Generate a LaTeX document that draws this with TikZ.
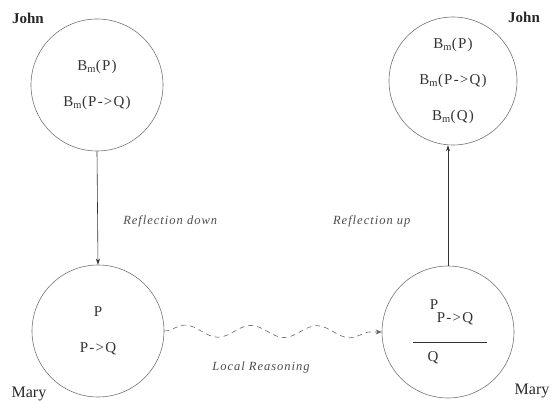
\documentclass[tikz,border=0pt]{standalone}
\usepackage{fontspec}
\setmainfont{Liberation Serif}
\newfontfamily\wideserif[LetterSpace=8]{Liberation Serif}
\usetikzlibrary{arrows.meta,decorations.pathmorphing,positioning}

\begin{document}
\begin{tikzpicture}[x=1pt, y=-1pt,
  mind/.style={circle, draw=black!55, line width=0.6pt, minimum size=132pt, inner sep=0pt,
               align=center, font=\wideserif\fontsize{15}{36}\selectfont, text=black!80},
  fml/.style={font=\wideserif\fontsize{15}{17}\selectfont, text=black!80, inner sep=1pt},
  who/.style={font=\fontsize{16}{19}\selectfont, text=black!85},
  rlbl/.style={font=\wideserif\fontsize{12.5}{15}\itshape, text=black!70},
  arr/.style={-{Stealth[length=6pt, width=4pt]}, line width=0.6pt, draw=black!80},
  wave/.style={-{Stealth[length=6pt, width=5pt]}, dashed, dash pattern=on 5pt off 4pt,
               line width=0.6pt, draw=black!60,
               decorate, decoration={snake, amplitude=6pt, segment length=66pt, post length=7pt}}
]
\useasboundingbox (0,0) rectangle (552,401);

% agents
\node[mind] (john1) at (97,85)  {B\textsubscript{m}(P)\\B\textsubscript{m}(P->Q)};
\node[mind] (mary1) at (98,331) {P\\P->Q};
\node[mind, minimum size=128pt] (john2) at (453,81)
  {B\textsubscript{m}(P)\\B\textsubscript{m}(P->Q)\\B\textsubscript{m}(Q)};
\node[mind] (mary2) at (448,332) {};

% modus ponens inside mary2
\node[fml] (p2)  at (434,305) {P};
\node[fml] (pq2) at (455,319) {P->Q};
\node[fml] (q2)  at (433,358) {Q};
\coordinate (ruleL) at (413,342);
\coordinate (ruleR) at (487,342);
\draw[line width=0.6pt, draw=black!80] (ruleL) -- (ruleR);

% names
\node[who, font=\fontsize{15}{18}\bfseries] (jname1) at (28,18)  {John};
\node[who, font=\fontsize{15}{18}\bfseries] (jname2) at (524,17) {John};
\node[who] (mname1) at (29,394)  {Mary};
\node[who] (mname2) at (532,391) {Mary};

% reflection and reasoning
\draw[arr] (john1.south) -- node[pos=0.62, right=22pt, rlbl]{Reflection down} (mary1.north);
\draw[arr] (mary2.north) -- node[pos=0.37, left=34pt, rlbl]{Reflection up} (mary2.north |- john2.south);
\draw[wave] (mary1.east) -- (mary2.west);
\node[rlbl] (lreason) at (261,367) {Local Reasoning};

\end{tikzpicture}
\end{document}
